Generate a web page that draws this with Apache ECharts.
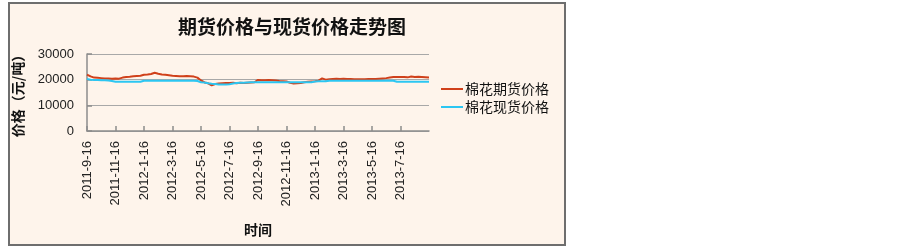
<!DOCTYPE html>
<html>
<head>
<meta charset="utf-8">
<script src="https://cdn.jsdelivr.net/npm/echarts@6/dist/echarts.min.js"></script>
<style>html,body{margin:0;padding:0;background:#fff;}#c{width:903px;height:248px;}</style>
</head>
<body>
<div id="c"></div>
<script>
var categories = [
"2011-9-16","2011-9-24","2011-10-1","2011-10-8","2011-10-16","2011-10-24","2011-11-1","2011-11-8","2011-11-16","2011-11-24","2011-12-1","2011-12-8","2011-12-16","2011-12-24",
"2012-1-1","2012-1-8","2012-1-16","2012-1-24","2012-2-1","2012-2-8","2012-2-16","2012-2-24","2012-3-1","2012-3-8","2012-3-16","2012-3-24",
"2012-4-1","2012-4-8","2012-4-16","2012-4-24","2012-5-1","2012-5-8","2012-5-16","2012-5-24","2012-6-1","2012-6-8","2012-6-16","2012-6-24",
"2012-7-1","2012-7-8","2012-7-16","2012-7-24","2012-8-1","2012-8-8","2012-8-16","2012-8-24","2012-9-1","2012-9-8","2012-9-16","2012-9-24",
"2012-10-1","2012-10-8","2012-10-16","2012-10-24","2012-11-1","2012-11-8","2012-11-16","2012-11-24","2012-12-1","2012-12-8","2012-12-16","2012-12-24",
"2013-1-1","2013-1-8","2013-1-16","2013-1-24","2013-2-1","2013-2-8","2013-2-16","2013-2-24","2013-3-1","2013-3-8","2013-3-16","2013-3-24",
"2013-4-1","2013-4-8","2013-4-16","2013-4-24","2013-5-1","2013-5-8","2013-5-16","2013-5-24","2013-6-1","2013-6-8","2013-6-16","2013-6-24",
"2013-7-1","2013-7-8","2013-7-16","2013-7-24","2013-8-1","2013-8-8","2013-8-16","2013-8-24","2013-9-1","2013-9-8","2013-9-16"
];
var futuresPrice = [
22000,21300,20800,20700,20600,20500,20500,20400,20500,20400,20800,21000,21100,21300,21400,21500,
21900,22000,22200,22700,22300,22000,21900,21700,21500,21400,21300,21300,21400,21300,21200,20800,
19700,18900,18600,17800,18300,18500,18600,18700,18700,18800,18600,18800,18700,18800,18900,19000,
19900,19800,19800,19900,19800,19700,19500,19400,19300,18800,18500,18600,18700,19000,19200,19300,
19400,19600,20500,20000,20200,20300,20400,20300,20400,20300,20300,20200,20200,20200,20200,20300,
20300,20300,20400,20500,20600,20800,21000,21000,21000,21000,20900,21200,21000,21100,21000,20900,
20800
];
var spotPrice = [
20300,20000,19900,19900,19800,19800,19700,19500,
19200,19200,19200,19200,19200,19200,19200,19200,
19600,19600,19600,19600,19600,19600,19600,19600,19600,19600,19600,19600,19600,19600,19600,19500,
19000,18900,18600,18400,18300,18100,18100,18100,18200,18500,18700,18800,18800,18900,
19000,19000,19000,19000,19000,19000,19000,19000,19000,19000,19000,19000,19000,19000,19000,19000,19000,19000,
19300,19400,19400,19400,
19600,19600,19600,19600,19600,19600,19600,19600,19600,19600,19600,19600,19600,19600,19600,19600,19600,19600,19600,
19200,19200,19200,19200,19200,19200,19200,19200,19200,19200
];
var yTicks = [0, 10000, 20000, 30000];
var seriesNames = ["棉花期货价格", "棉花现货价格"];

var chart = echarts.init(document.getElementById('c'), null, {renderer: 'canvas'});
var cjk = '"Noto Sans CJK SC", sans-serif';
var showIdx = function (idx) { return idx % 8 === 0 && idx < categories.length - 1; };
chart.setOption({
  backgroundColor: '#ffffff',
  animation: false,
  graphic: [{
    type: 'rect', z: -10, silent: true,
    shape: {x: 9, y: 3, width: 556, height: 242},
    style: {fill: '#FEF4EB', stroke: '#6E6E6E', lineWidth: 2}
  }],
  title: {
    text: '期货价格与现货价格走势图',
    left: 287, top: 12, textAlign: 'center',
    textStyle: {fontFamily: cjk, fontSize: 19, fontWeight: 'bold', color: '#111'}
  },
  legend: {
    orient: 'vertical', left: 436, top: 77,
    itemWidth: 22, itemHeight: 2, itemGap: 4,
    icon: 'rect',
    textStyle: {fontFamily: cjk, fontSize: 14, color: '#111', padding: [0, 0, 0, -3]},
    data: seriesNames
  },
  grid: {left: 87, right: 474, top: 54, bottom: 117, containLabel: false},
  xAxis: {
    type: 'category', data: categories, boundaryGap: false,
    name: '时间', nameLocation: 'middle', nameGap: 92,
    nameTextStyle: {fontFamily: cjk, fontSize: 14, fontWeight: 'bold', color: '#111'},
    axisLine: {lineStyle: {color: '#8C8C8C', width: 1.5}},
    axisTick: {inside: true, length: 5, interval: function (i) { return showIdx(i); }, lineStyle: {color: '#8C8C8C', width: 1.5}},
    axisLabel: {interval: function (i) { return showIdx(i); }, rotate: 90, margin: 10, fontFamily: 'Liberation Sans, Arial, sans-serif', fontSize: 13, color: '#222'},
    splitLine: {show: false}
  },
  yAxis: {
    type: 'value', min: yTicks[0], max: yTicks[yTicks.length - 1], interval: 10000,
    name: '价格（元/吨）', nameLocation: 'middle', nameGap: 62,
    nameTextStyle: {fontFamily: cjk, fontSize: 14, fontWeight: 'bold', color: '#111'},
    axisLine: {show: true, lineStyle: {color: '#8C8C8C', width: 1.5}},
    axisTick: {show: true, inside: true, length: 5, lineStyle: {color: '#8C8C8C', width: 1.5}},
    axisLabel: {margin: 13, formatter: function (v) { return String(v); }, fontFamily: 'Liberation Sans, Arial, sans-serif', fontSize: 13, color: '#222'},
    splitLine: {lineStyle: {color: '#A8A8A8', width: 1}}
  },
  series: [
    {name: seriesNames[0], type: 'line', data: futuresPrice, showSymbol: false, symbol: 'none',
     lineStyle: {color: '#D0401A', width: 2}, itemStyle: {color: '#D0401A'}, z: 2},
    {name: seriesNames[1], type: 'line', data: spotPrice, showSymbol: false, symbol: 'none',
     lineStyle: {color: '#2CC6F2', width: 2}, itemStyle: {color: '#2CC6F2'}, z: 3}
  ]
});
</script>
</body>
</html>
